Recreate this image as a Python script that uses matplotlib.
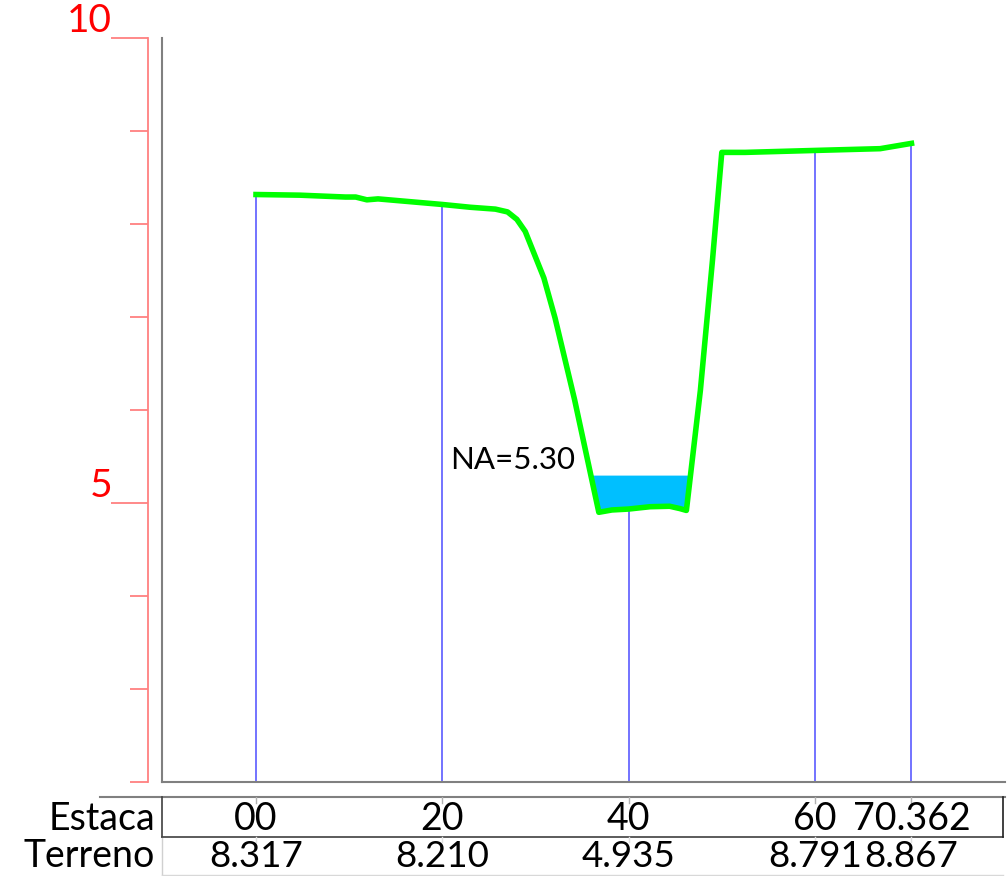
import matplotlib
matplotlib.use("Agg")
import matplotlib.pyplot as plt
import numpy as np

# ---- data ----
estaca_pos = [0, 20, 40, 60, 70.362]
estaca_labels = ["00", "20", "40", "60", "70.362"]
terreno_vals = [8.317, 8.210, 4.935, 8.791, 8.867]
terreno_labels = ["8.317", "8.210", "4.935", "8.791", "8.867"]

profile_x = [0, 4.7, 9.6, 10.7, 11.9, 13.1, 20, 23, 25.7, 27, 28, 28.9, 30.9, 32.1,
             34.2, 36.8, 38.2, 40, 42.3, 44.4, 45.5, 46.2, 47.7, 49.0, 50, 52.5, 60,
             67, 70.362]
profile_y = [8.317, 8.31, 8.29, 8.29, 8.26, 8.27, 8.210, 8.18, 8.16, 8.13, 8.05, 7.92,
             7.42, 6.99, 6.11, 4.90, 4.925, 4.935, 4.96, 4.965, 4.94, 4.92, 6.21, 7.61,
             8.77, 8.77, 8.791, 8.81, 8.867]
water_level = 5.30
y_ticks = [2, 3, 4, 5, 6, 7, 8, 9, 10]
y_major = [5, 10]

FONT = ['Lato', 'DejaVu Sans']
W, H = 1008, 876
fig = plt.figure(figsize=(W / 100, H / 100), dpi=100)

ax = fig.add_axes([162 / W, 1 - 782 / H, (1005 - 162) / W, (782 - 38) / H])
ax.set_xlim(-10.09, 80.4)
ax.set_ylim(2, 10)

gray = '#808080'
red_line = '#ff8080'
for s in ['top', 'right']:
    ax.spines[s].set_visible(False)
ax.spines['bottom'].set_color(gray)
ax.spines['bottom'].set_linewidth(1.5)
ax.spines['left'].set_position(('outward', 10))
ax.spines['left'].set_color(red_line)
ax.spines['left'].set_linewidth(1.3)
ax.plot([0, 0], [0, 1], transform=ax.transAxes, color=gray, lw=1.5, clip_on=False)

ax.set_xticks([])
ax.set_yticks(y_major)
ax.set_yticks([t for t in y_ticks if t not in y_major], minor=True)
ax.tick_params(axis='y', which='major', length=26.6, color=red_line, width=1.3,
               labelleft=False)
ax.tick_params(axis='y', which='minor', length=13, color=red_line, width=1.3,
               labelleft=False)
for t in y_major:
    ax.annotate(str(t), xy=(0, t), xycoords=('axes fraction', 'data'),
                xytext=(-36, -1), textcoords='offset points', ha='right', va='bottom',
                color='red', fontsize=28, family=FONT)

px = np.array(profile_x)
py = np.array(profile_y)
xs = np.linspace(px.min(), px.max(), 3000)
ys = np.interp(xs, px, py)
ax.fill_between(xs, ys, water_level, where=ys < water_level, interpolate=True,
                color='#00bfff', lw=0, zorder=2)

for xp, v in zip(estaca_pos, terreno_vals):
    ax.plot([xp, xp], [2, v], color='#4d4dff', lw=1.1, zorder=1)

ax.plot(px, py, color='#00ff00', lw=4.0, zorder=3, solid_joinstyle='round')

ax.text(34.3, 5.37, "NA=5.30", ha='right', va='baseline', fontsize=22.5,
        family=FONT, color='black')

# ---- table ----
tb = fig.add_axes([162 / W, 0, (1005 - 162) / W, (876 - 797) / H])
tb.set_xlim(ax.get_xlim())
tb.set_ylim(0, 2)
tb.axis('off')
xl = (100 - 256) / 9.315
xr = (1003 - 256) / 9.315
x0 = ax.get_xlim()[0]
tb.plot([xl, xr + 0.2], [2, 2], color=gray, lw=1.5, clip_on=False)
tb.plot([x0, x0], [1, 2], color='#404040', lw=1.2, clip_on=False)
tb.plot([x0, x0], [0, 1], color='#d0d0d0', lw=1.0, clip_on=False)
tb.plot([x0, xr], [1, 1], color='#404040', lw=1.2, clip_on=False)
tb.plot([xr, xr], [1, 2], color='#202020', lw=1.2, clip_on=False)
tb.plot([x0, xr], [0.02, 0.02], color='#d8d8d8', lw=1.0, clip_on=False)
for xp in estaca_pos:
    tb.plot([xp, xp], [2, 1.85], color='#b0b0b0', lw=1.0)
    tb.plot([xp, xp], [1, 0.85], color='#e0e0e0', lw=1.0)

lab_x = (155 - 256) / 9.315
tb.text(lab_x, 1.45, "Estaca", ha='right', va='center', fontsize=27, family=FONT)
tb.text(lab_x, 0.5, "Terreno", ha='right', va='center', fontsize=27, family=FONT)
for xp, lab in zip(estaca_pos, estaca_labels):
    tb.text(xp, 1.45, lab, ha='center', va='center', fontsize=27, family=FONT)
for xp, lab in zip(estaca_pos, terreno_labels):
    tb.text(xp, 0.5, lab, ha='center', va='center', fontsize=26.5, family=FONT)

fig.savefig("out.png", dpi=100)
